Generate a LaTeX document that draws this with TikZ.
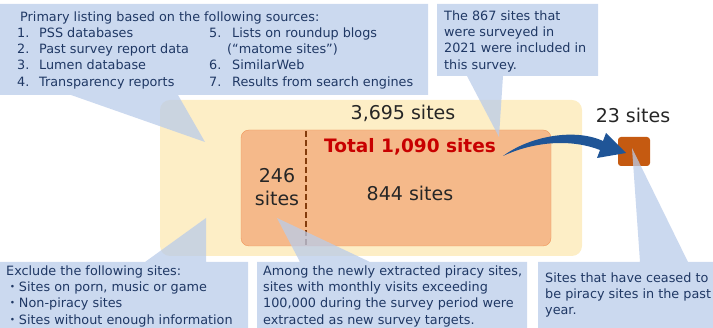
\documentclass[tikz,border=0pt]{standalone}
\usepackage{fontspec}
\setmainfont{DejaVu Sans}
\newfontfamily\cjk{Noto Sans CJK JP}
\usepackage{tikz}
\usetikzlibrary{positioning}
\definecolor{calloutblue}{RGB}{186,204,234}
\definecolor{notenavy}{RGB}{31,56,100}
\definecolor{sandyellow}{RGB}{253,238,198}
\definecolor{peach}{RGB}{245,185,138}
\definecolor{peachedge}{RGB}{240,150,90}
\definecolor{rustbrown}{RGB}{132,60,12}
\definecolor{totalred}{RGB}{200,0,0}
\definecolor{droporange}{RGB}{197,90,17}
\definecolor{arrowblue}{RGB}{31,85,151}

\begin{document}
\begin{tikzpicture}[x=1pt, y=-1pt,
    note/.style={anchor=north west, inner sep=0pt, align=left, text=notenavy, font=\fontsize{12.8}{16.3}\selectfont},
    count/.style={anchor=base, inner sep=0pt, text=black!85, font=\fontsize{19}{23}\selectfont},
    callout/.style={fill=calloutblue, fill opacity=0.75}]
    \useasboundingbox (0,0) rectangle (713,328);
    \fill[sandyellow, rounded corners=10pt] (160,100) rectangle (582,256);
    \filldraw[fill=peach, draw=peachedge, rounded corners=8pt] (241,130) rectangle (551,246);
    \draw[rustbrown, line width=2.2pt, dash pattern=on 6pt off 3pt] (306,131) -- (306,245);
    \node[count] (allsites) at (403,120) {3,695 sites};
    \node[count, text=totalred, font=\bfseries\fontsize{18.5}{22}\selectfont] (total) at (410,153) {Total 1,090 sites};
    \node[count, anchor=north, align=center] (newsites) at (277,168) {246\\sites};
    \node[count] (oldsites) at (410,201) {844 sites};
    \node[fill=droporange, rounded corners=3pt, inner sep=0pt, minimum width=32pt, minimum height=29pt] (gone) at (634,151.5) {};
    \node[count] (gonecount) at (633,123) {23 sites};
    \fill[arrowblue] (503,156) .. controls (530,136) and (575,128) .. (603,141) -- (606,133) -- (626,153) -- (597,158) -- (600,150) .. controls (572,139) and (535,141) .. (503,156) -- cycle;
    \fill[callout] (0,4) -- (428,4) -- (428,95) -- (178,95) -- (205,142) -- (71,95) -- (0,95) -- cycle;
    \fill[callout] (437,4) -- (598,4) -- (598,76) -- (503,76) -- (499,137) -- (467,76) -- (437,76) -- cycle;
    \fill[callout] (0,262) -- (145,262) -- (206,218) -- (206,262) -- (248,262) -- (248,328) -- (0,328) -- cycle;
    \fill[callout] (257,262) -- (300,262) -- (277,218) -- (370,262) -- (527,262) -- (527,328) -- (257,328) -- cycle;
    \fill[callout] (538,262) -- (640,262) -- (632,148) -- (688,262) -- (713,262) -- (713,328) -- (538,328) -- cycle;
    \node[note] (sources) at (20,11.3) {Primary listing based on the following sources:};
    \node[note] (listleft) at (17,27.3) {\makebox[22pt][l]{1.}PSS databases\\\makebox[22pt][l]{2.}Past survey report data\\\makebox[22pt][l]{3.}Lumen database\\\makebox[22pt][l]{4.}Transparency reports};
    \node[note] (listright) at (209,27.3) {\makebox[23pt][l]{5.}Lists on roundup blogs\\\hspace{18pt}(“matome sites”)\\\makebox[23pt][l]{6.}SimilarWeb\\\makebox[23pt][l]{7.}Results from search engines};
    \node[note] (kept) at (444,10.3) {The 867 sites that\\were surveyed in\\2021 were included in\\this survey.};
    \node[note] (exclude) at (6,265.3) {Exclude the following sites:\\{\cjk ・}Sites on porn, music or game\\{\cjk ・}Non-piracy sites\\{\cjk ・}Sites without enough information};
    \node[note] (extract) at (263,265.3) {Among the newly extracted piracy sites,\\sites with monthly visits exceeding\\100,000 during the survey period were\\extracted as new survey targets.};
    \node[note] (ceased) at (545,272.3) {Sites that have ceased to\\be piracy sites in the past\\year.};
\end{tikzpicture}
\end{document}
